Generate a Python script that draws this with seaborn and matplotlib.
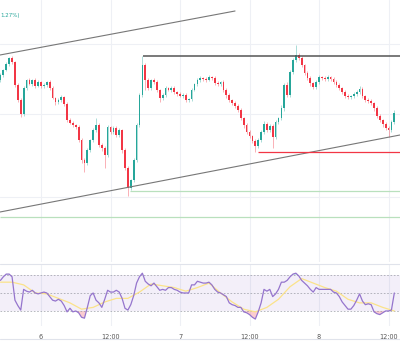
import numpy as np
import pandas as pd
import matplotlib.pyplot as plt
import seaborn as sns

# 30-minute candles, time in hours from day 6 00:00
t_start = -7.0
step = 0.5

close = [225, 230, 236, 242, 238, 215, 200, 186, 212, 220,
         216, 220, 214, 218, 214, 215, 218, 212, 202, 198,
         200, 203, 196, 180, 177, 175, 173, 160, 140, 137,
         150, 160, 170, 175, 155, 152, 145, 173, 168, 172,
         165, 170, 150, 132, 112, 120, 140, 175, 205, 235,
         220, 212, 220, 218, 210, 202, 205, 212, 210, 212,
         208, 206, 204, 205, 200, 201, 210, 216, 220, 222,
         221, 220, 223, 222, 217, 216, 218, 210, 205, 200,
         197, 194, 190, 182, 175, 168, 164, 159, 154, 160,
         168, 176, 170, 174, 163, 178, 182, 192, 215, 205,
         228, 240, 245, 242, 235, 227, 222, 217, 213, 218,
         223, 222, 221, 223, 221, 218, 215, 212, 208, 204,
         203, 204, 206, 208, 211, 204, 200, 199, 197, 192,
         184, 180, 176, 172, 170, 178, 187]
first_open = 220

hi_wick = [2, 1, 2, 1, 2, 1, 2, 2, 2, 1, 2, 1, 2, 2, 1, 2, 1, 2, 2, 1,
           2, 2, 1, 2, 2, 2, 1, 2, 2, 2, 2, 1, 2, 7, 2, 2, 2, 2, 1, 2,
           2, 2, 1, 2, 2, 1, 2, 2, 2, 9, 2, 2, 1, 2, 2, 1, 2, 2, 1, 2,
           2, 1, 2, 2, 2, 1, 2, 1, 2, 2, 1, 2, 2, 1, 2, 2, 1, 2, 2, 2,
           1, 2, 2, 2, 1, 2, 2, 1, 2, 2, 2, 3, 2, 2, 2, 2, 1, 3, 2, 3,
           2, 2, 10, 2, 2, 1, 2, 2, 1, 2, 2, 1, 2, 2, 1, 2, 2, 2, 1, 2,
           2, 1, 2, 2, 3, 2, 1, 2, 2, 1, 2, 2, 1, 2, 2, 2, 3]
lo_wick = [2, 2, 1, 2, 2, 2, 2, 3, 2, 2, 1, 2, 2, 1, 2, 2, 2, 2, 1, 3,
           2, 2, 2, 2, 1, 2, 2, 2, 3, 9, 2, 2, 2, 2, 2, 3, 13, 2, 2, 2,
           2, 2, 3, 2, 8, 2, 2, 2, 2, 2, 10, 2, 2, 2, 2, 4, 2, 2, 1, 2,
           2, 2, 1, 2, 2, 2, 2, 1, 2, 2, 2, 2, 1, 2, 2, 2, 2, 2, 3, 2,
           2, 2, 2, 2, 3, 2, 2, 2, 6, 2, 2, 2, 2, 2, 11, 2, 2, 2, 3, 2,
           2, 2, 2, 2, 2, 2, 2, 3, 2, 2, 2, 2, 2, 2, 2, 2, 2, 2, 2, 2,
           2, 2, 2, 2, 2, 2, 2, 2, 2, 3, 2, 2, 3, 2, 7, 2, 2]

rsi = [64, 68, 71, 71, 68, 42, 36, 31, 54, 52, 51, 53, 50, 49, 50, 51, 50, 46, 42, 41,
       43, 41, 36, 29, 33, 29, 30, 28, 23, 22, 34, 47, 50, 42, 39, 34, 43, 53, 51, 51,
       53, 51, 44, 33, 31, 37, 47, 61, 68, 72, 63, 60, 58, 61, 57, 53, 54, 53, 56, 56,
       54, 53, 51, 50, 50, 50, 59, 59, 63, 62, 61, 61, 62, 59, 54, 51, 50, 48, 46, 39,
       37, 36, 34, 34, 29, 28, 26, 23, 21, 29, 39, 54, 52, 54, 46, 49, 54, 62, 62, 64,
       68, 71, 72, 69, 64, 61, 58, 54, 51, 56, 54, 54, 54, 54, 54, 51, 50, 46, 40, 36,
       32, 32, 36, 42, 49, 41, 37, 38, 37, 29, 27, 26, 28, 30, 30, 31, 50]
# RSI moving average, every 4th candle
rsi_ma = [62, 62, 59, 50, 49, 44, 39, 32, 34, 40, 44, 44, 51, 60, 58, 56, 52, 56,
          61, 50, 40, 32, 29, 34, 43, 57, 66, 61, 56, 52, 43, 39, 39, 34, 30]

tick_pos = [0, 12, 24, 36, 48, 60]
tick_labels = ["6", "12:00", "7", "12:00", "8", "12:00"]
grid_prices = [256, 186, 103]

# drawn levels: (t0, p0, t1, p1)
channel_upper = (-7.08, 245, 33.5, 289)
channel_lower = (-7.08, 88, 61.98, 165)
resistance = (17.6, 244)
support = (37.5, 148)
green_levels = [(15.4, 109), (-7.08, 83)]

n = len(close)
t = t_start + step * np.arange(n)
opens = [first_open] + close[:-1]
df = pd.DataFrame({"t": t, "open": opens, "close": close})
df["high"] = df[["open", "close"]].max(axis=1) + np.array(hi_wick)
df["low"] = df[["open", "close"]].min(axis=1) - np.array(lo_wick)
df["up"] = df["close"] >= df["open"]
df["rsi"] = rsi

ma_df = pd.DataFrame({"t": t[::4], "ma": rsi_ma})

sns.set_style("white")
up_c, dn_c = "#26a69a", "#f23645"
grid_c = "#eef0f5"
xmin, xmax = -7.08, 61.98

fig = plt.figure(figsize=(4, 3.55), dpi=100)
ax = fig.add_axes([0, (355 - 262) / 355, 1, 262 / 355])
rax = fig.add_axes([0, (355 - 326) / 355, 1, 62 / 355])

# candles
cols = np.where(df["up"], up_c, dn_c)
ax.vlines(df["t"], df["low"], df["high"], colors=cols, linewidth=0.6, alpha=0.45, zorder=2)
body = (df["close"] - df["open"]).replace(0, 0.6)
ax.bar(df["t"], body, bottom=df["open"], width=0.3, color=cols, linewidth=0, zorder=3)

# drawings
ax.plot(channel_upper[::2], channel_upper[1::2], color="#777777", lw=0.8, zorder=4)
ax.plot(channel_lower[::2], channel_lower[1::2], color="#777777", lw=0.8, zorder=4)
ax.hlines(resistance[1], resistance[0], xmax, color="#555555", lw=1.1, zorder=4)
ax.hlines(support[1], support[0], xmax, color="#f23645", lw=0.9, zorder=4)
for x0, p in green_levels:
    ax.hlines(p, x0, xmax, color="#b9e0bd", lw=0.9, zorder=1)

ax.set_xlim(xmin, xmax)
ax.set_ylim(38, 300)
ax.set_xticks(tick_pos)
ax.set_yticks(grid_prices)
ax.grid(True, color=grid_c, lw=0.8)
ax.tick_params(left=False, bottom=False, labelleft=False, labelbottom=False)
for s in ax.spines.values():
    s.set_visible(False)

# RSI panel
rax.axhspan(30, 70, color="#7e57c2", alpha=0.09, lw=0)
for lvl in (70, 50, 30):
    rax.axhline(lvl, color="#9598a1", lw=0.6, ls=(0, (2, 2)), alpha=0.8)
r = df["rsi"].to_numpy(dtype=float)
rax.fill_between(df["t"], 30, r, where=r < 30, interpolate=True, color="#f23645", alpha=0.25, lw=0)
rax.fill_between(df["t"], 70, r, where=r > 70, interpolate=True, color="#26a69a", alpha=0.25, lw=0)
sns.lineplot(data=ma_df, x="t", y="ma", ax=rax, color="#fbe38a", lw=0.9)
sns.lineplot(data=df, x="t", y="rsi", ax=rax, color="#9575cd", lw=0.9)
rax.set_xlim(xmin, xmax)
rax.set_ylim(13.3, 82.2)
rax.set_xticks(tick_pos)
rax.set_xticklabels(tick_labels)
rax.set_yticks([])
rax.grid(True, axis="x", color=grid_c, lw=0.8)
rax.set_xlabel("")
rax.set_ylabel("")
rax.tick_params(bottom=False, labelsize=4.7, labelcolor="#555555", pad=2)
for s in rax.spines.values():
    s.set_visible(False)

# panel separators
fig.add_artist(plt.Line2D([0, 1], [(355 - 263.5) / 355] * 2, color="#e0e3eb", lw=0.8))
fig.add_artist(plt.Line2D([0, 1], [(355 - 339) / 355] * 2, color="#e0e3eb", lw=0.8))

fig.text(0.0, 1 - 15 / 355, "1.27%)", color="#26a69a", fontsize=4, va="center", ha="left")

fig.savefig("out.png", dpi=100)
